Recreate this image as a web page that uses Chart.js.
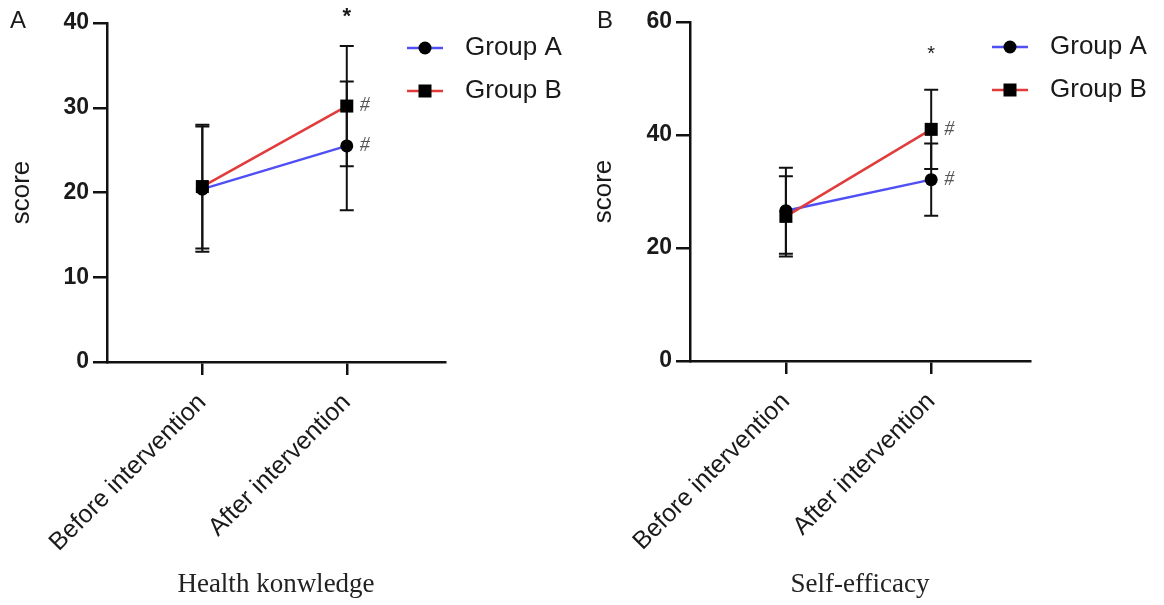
<!DOCTYPE html>
<html>
<head>
  <title>Scores before and after intervention</title>
  <script src="https://cdn.jsdelivr.net/npm/chart.js@4.4.1/dist/chart.umd.min.js"></script>
  <style>
    body { margin: 0; background: #fff; }
    .panel { position: absolute; top: 0; }
  </style>
</head>
<body>
  <canvas id="panelA" class="panel" width="582" height="605" style="left:0"></canvas>
  <canvas id="panelB" class="panel" width="582" height="605" style="left:582px"></canvas>
  <script>
    // data
    var categories = ['Before intervention', 'After intervention'];
    var groupNames = ['Group A', 'Group B'];

    var knowledgeA = [20.4, 25.5];
    var knowledgeASd = [7.4, 7.6];
    var knowledgeB = [20.7, 30.2];
    var knowledgeBSd = [7.3, 7.1];
    var knowledgeTicks = [0, 10, 20, 30, 40];

    var efficacyA = [26.6, 32.1];
    var efficacyASd = [7.6, 6.4];
    var efficacyB = [25.6, 41.0];
    var efficacyBSd = [7.1, 7.0];
    var efficacyTicks = [0, 20, 40, 60];

    var BLUE = '#4f4ff5';
    var RED = '#e23b3b';
    var INK = '#1a1a1a';
    var SANS = '"Liberation Sans", Arial, sans-serif';

    function drawMarker(ctx, style, x, y) {
      ctx.fillStyle = '#000';
      ctx.beginPath();
      if (style === 'rect') ctx.rect(x - 6.5, y - 6.5, 13, 13);
      else ctx.arc(x, y, 6.5, 0, Math.PI * 2);
      ctx.fill();
    }

    // error bars, significance marks, legend and panel letter
    var extras = {
      id: 'extras',
      beforeDatasetsDraw(chart) {
        var ctx = chart.ctx, xs = chart.scales.x, ys = chart.scales.y;
        var sds = chart.options.plugins.extras.sds;
        ctx.save();
        ctx.strokeStyle = '#111';
        ctx.lineWidth = 2;
        chart.data.datasets.forEach(function (ds, d) {
          ds.data.forEach(function (p, i) {
            var x = xs.getPixelForValue(p.x);
            var yt = ys.getPixelForValue(p.y + sds[d][i]);
            var yb = ys.getPixelForValue(p.y - sds[d][i]);
            ctx.beginPath();
            ctx.moveTo(x, yt); ctx.lineTo(x, yb);
            ctx.moveTo(x - 7, yt); ctx.lineTo(x + 7, yt);
            ctx.moveTo(x - 7, yb); ctx.lineTo(x + 7, yb);
            ctx.stroke();
          });
        });
        ctx.restore();
      },
      afterDraw(chart) {
        var o = chart.options.plugins.extras;
        var ctx = chart.ctx, xs = chart.scales.x, ys = chart.scales.y;
        var area = chart.chartArea;
        ctx.save();
        // panel letter
        ctx.fillStyle = INK;
        ctx.font = '24px ' + SANS;
        ctx.textBaseline = 'middle';
        ctx.textAlign = 'left';
        ctx.fillText(o.letter, o.letterX, 21);
        // star over the after-intervention column
        ctx.textAlign = 'center';
        ctx.font = o.starFont;
        ctx.fillText('*', xs.getPixelForValue(1), ys.getPixelForValue(o.starValue) + o.starShift);
        // hash marks beside the after points
        ctx.fillStyle = '#555';
        ctx.font = 'italic 20px "Liberation Serif", serif';
        ctx.textAlign = 'left';
        chart.data.datasets.forEach(function (ds) {
          var p = ds.data[1];
          ctx.fillText('#', xs.getPixelForValue(p.x) + 13, ys.getPixelForValue(p.y));
        });
        // legend
        chart.data.datasets.forEach(function (ds, d) {
          var y = area.top + o.legendY[d];
          var x0 = area.right - 38;
          ctx.strokeStyle = ds.borderColor;
          ctx.lineWidth = 2.5;
          ctx.beginPath();
          ctx.moveTo(x0, y); ctx.lineTo(x0 + 36, y);
          ctx.stroke();
          drawMarker(ctx, ds.pointStyle, x0 + 18, y);
          ctx.fillStyle = INK;
          ctx.font = '26px ' + SANS;
          ctx.fillText(ds.label, area.right + 20, y);
        });
        ctx.restore();
      }
    };

    function makePanel(id, cfg) {
      var sets = [
        { label: groupNames[1], values: cfg.b, color: RED, style: 'rect', radius: 9.2, order: 0 },
        { label: groupNames[0], values: cfg.a, color: BLUE, style: 'circle', radius: 6.5, order: 1 }
      ];
      return new Chart(document.getElementById(id), {
        type: 'line',
        data: {
          datasets: sets.map(function (s) {
            return {
              label: s.label,
              data: s.values.map(function (v, i) { return { x: i, y: v }; }),
              borderColor: s.color,
              borderWidth: 2.5,
              pointStyle: s.style,
              pointRadius: s.radius,
              pointBackgroundColor: '#000',
              pointBorderColor: '#000',
              pointBorderWidth: 0,
              order: s.order,
              tension: 0
            };
          })
        },
        options: {
          responsive: false,
          animation: false,
          layout: { padding: { left: 0, right: cfg.right, top: cfg.top, bottom: 0 } },
          plugins: {
            legend: { display: false },
            tooltip: { enabled: false },
            extras: {
              sds: [cfg.bSd, cfg.aSd],
              letter: cfg.letter, letterX: cfg.letterX,
              starValue: cfg.starValue, starShift: cfg.starShift, starFont: cfg.starFont,
              legendY: [68, 25]
            }
          },
          scales: {
            x: {
              type: 'linear',
              min: -0.66,
              max: 1.68,
              afterBuildTicks: function (s) { s.ticks = categories.map(function (c, i) { return { value: i }; }); },
              afterFit: function (s) { s.height = 605 - cfg.bottomY; },
              ticks: {
                autoSkip: false, minRotation: 45, maxRotation: 45, padding: 13,
                color: INK, font: { family: SANS, size: 25 },
                callback: function (v) { return categories[v]; }
              },
              grid: { drawOnChartArea: false, drawTicks: true, tickLength: 13, color: '#111', lineWidth: 2.5 },
              border: { display: true, color: '#111', width: 2.5 },
              title: {
                display: true, text: cfg.title, color: '#222',
                font: { family: '"Liberation Serif", serif', size: 27 },
                padding: { top: 0, bottom: 4 }
              }
            },
            y: {
              min: 0,
              max: cfg.ticks[cfg.ticks.length - 1],
              afterBuildTicks: function (s) { s.ticks = cfg.ticks.map(function (v) { return { value: v }; }); },
              afterFit: function (s) { s.width = cfg.leftX; },
              ticks: { color: INK, padding: 4, font: { family: SANS, size: 23, weight: 'bold' } },
              grid: { drawOnChartArea: false, drawTicks: true, tickLength: 14, color: '#111', lineWidth: 2.5 },
              border: { display: true, color: '#111', width: 2.5 },
              title: {
                display: true, text: 'score', color: INK,
                font: { family: SANS, size: 26 },
                padding: { top: 6, bottom: 0 }
              }
            }
          }
        },
        plugins: [extras]
      });
    }

    makePanel('panelA', {
      a: knowledgeA, aSd: knowledgeASd, b: knowledgeB, bSd: knowledgeBSd,
      ticks: knowledgeTicks, title: 'Health konwledge',
      letter: 'A', letterX: 10, starValue: 41.2, starShift: 4, starFont: 'bold 22px ' + SANS,
      leftX: 107, right: 137, top: 23, bottomY: 362
    });

    makePanel('panelB', {
      a: efficacyA, aSd: efficacyASd, b: efficacyB, bSd: efficacyBSd,
      ticks: efficacyTicks, title: 'Self-efficacy',
      letter: 'B', letterX: 15, starValue: 55.3, starShift: 6, starFont: '20px ' + SANS,
      leftX: 108, right: 134, top: 22, bottomY: 361
    });
  </script>
</body>
</html>
